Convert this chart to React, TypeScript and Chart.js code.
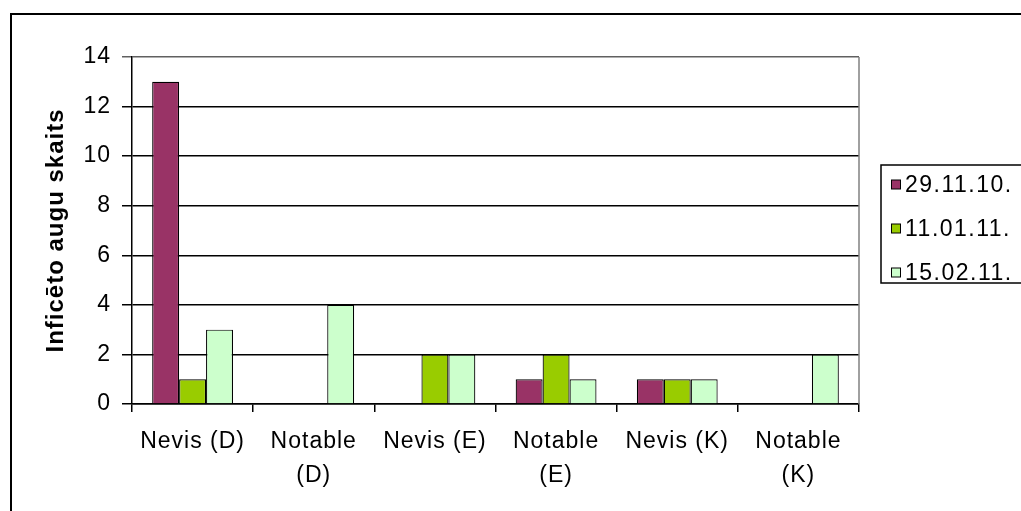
import React, { useEffect, useRef } from "react";
import { Chart, registerables } from "chart.js";

Chart.register(...registerables);

const categories: (string | string[])[] = [
  "Nevis (D)",
  ["Notable", "(D)"],
  "Nevis (E)",
  ["Notable", "(E)"],
  "Nevis (K)",
  ["Notable", "(K)"],
];
const seriesNames = ["29.11.10.", "11.01.11.", "15.02.11."];
const seriesA = [13, 0, 0, 1, 1, 0];
const seriesB = [1, 0, 2, 2, 1, 0];
const seriesC = [3, 4, 2, 1, 1, 2];
const seriesColors = ["#993366", "#99CC00", "#CCFFCC"];
const yMin = 0;
const yMax = 14;
const yStep = 2;
const yTitle = "Inficēto augu skaits";

const FONT = "'Liberation Sans', Arial, sans-serif";

const spacingPlugin = {
  id: "spacing",
  beforeDraw(chart: any) {
    chart.ctx.letterSpacing = "1px";
  },
};

const legendPlugin = {
  id: "boxLegend",
  afterDraw(chart: any) {
    const ctx = chart.ctx;
    ctx.save();
    ctx.letterSpacing = "1.5px";
    ctx.strokeStyle = "#000";
    ctx.lineWidth = 1.5;
    ctx.strokeRect(881, 165, 200, 118);
    ctx.font = `23px ${FONT}`;
    ctx.textBaseline = "middle";
    ctx.textAlign = "left";
    chart.data.datasets.forEach((ds: any, i: number) => {
      const cy = 184.5 + i * 44;
      ctx.fillStyle = ds.backgroundColor;
      ctx.fillRect(891, cy - 4.5, 9, 9);
      ctx.lineWidth = 1;
      ctx.strokeStyle = "#000";
      ctx.strokeRect(891.5, cy - 4.5, 9, 9);
      ctx.fillStyle = "#000";
      ctx.fillText(ds.label, 905, cy + 1);
    });
    ctx.restore();
  },
};

const plotBorderPlugin = {
  id: "plotBorder",
  afterDatasetsDraw(chart: any) {
    const { ctx, chartArea } = chart;
    ctx.save();
    ctx.strokeStyle = "#808080";
    ctx.lineWidth = 1.5;
    ctx.beginPath();
    ctx.moveTo(chartArea.right, chartArea.top);
    ctx.lineTo(chartArea.right, chartArea.bottom);
    ctx.stroke();
    ctx.restore();
  },
};

export default function App() {
  const ref = useRef<HTMLCanvasElement>(null);

  useEffect(() => {
    if (!ref.current) return;
    Chart.defaults.font.family = FONT;
    Chart.defaults.color = "#000";
    const chart = new Chart(ref.current, {
      type: "bar",
      data: {
        labels: categories,
        datasets: [seriesA, seriesB, seriesC].map((d, i) => ({
          label: seriesNames[i],
          data: d,
          backgroundColor: seriesColors[i],
          borderColor: "#000",
          borderWidth: 1.2,
          categoryPercentage: 0.667,
          barPercentage: 1,
        })),
      },
      options: {
        animation: false,
        responsive: false,
        layout: { padding: { left: 0, top: 57, right: 162, bottom: 0 } },
        plugins: {
          legend: { display: false },
          tooltip: { enabled: false },
        },
        scales: {
          x: {
            grid: {
              drawOnChartArea: false,
              drawTicks: true,
              tickLength: 8,
              color: "#000",
              lineWidth: 1.5,
              offset: true,
            },
            border: { display: true, color: "#000", width: 1.5 },
            ticks: {
              font: { size: 23, lineHeight: 1.48 },
              color: "#000",
              padding: 13,
              maxRotation: 0,
              autoSkip: false,
            },
            afterFit: (s: any) => {
              s.height = 107;
            },
          },
          y: {
            min: yMin,
            max: yMax,
            ticks: {
              stepSize: yStep,
              font: { size: 23 },
              color: "#000",
              padding: 11,
            },
            grid: {
              color: (c: any) => (c.tick && c.tick.value === yMax ? "#606060" : "#000"),
              lineWidth: 1.5,
              tickLength: 10,
            },
            border: { display: true, color: "#000", width: 1.5 },
            title: {
              display: true,
              text: yTitle,
              font: { size: 24, weight: "bold" },
              color: "#000",
              padding: { top: 42, bottom: 0 },
            },
            afterFit: (s: any) => {
              s.width = 132;
            },
          },
        },
      },
      plugins: [spacingPlugin, plotBorderPlugin, legendPlugin],
    });
    return () => chart.destroy();
  }, []);

  return (
    <div
      style={{
        position: "fixed",
        left: 0,
        top: 0,
        width: 1021,
        height: 511,
        overflow: "hidden",
        background: "#fff",
      }}
    >
      <div
        style={{
          position: "absolute",
          left: 10,
          top: 13,
          width: 1200,
          height: 700,
          border: "2px solid #000",
        }}
      />
      <canvas
        ref={ref}
        width={1021}
        height={511}
        style={{ position: "absolute", left: 0, top: 0, width: 1021, height: 511 }}
      />
    </div>
  );
}
